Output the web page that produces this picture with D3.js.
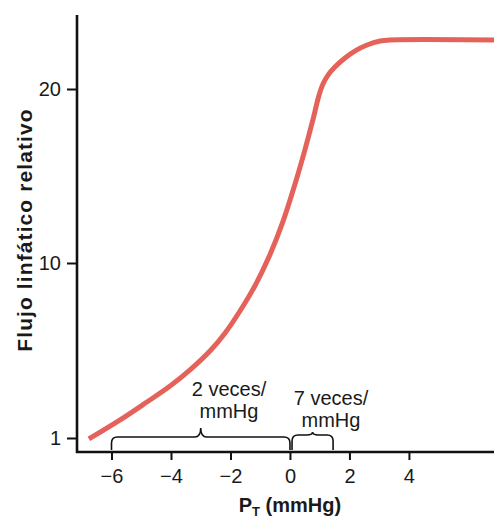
<!DOCTYPE html>
<html>
<head>
<meta charset="utf-8">
<script src="https://cdn.jsdelivr.net/npm/d3@7"></script>
<style>
  html, body { margin: 0; padding: 0; background: #ffffff; }
  svg { display: block; }
  text { font-family: "Liberation Sans", Arial, Helvetica, sans-serif; fill: #1a1a1a; }
</style>
</head>
<body>
<svg id="chart" width="494" height="518"></svg>
<script>
// ---- data ----
const pressure = [-6.76, -5.71, -4.81, -4.03, -3.36, -2.69, -2.18, -1.68, -1.18, -0.67, -0.24, 0.17, 0.50, 0.77, 0.97, 1.11, 1.28, 1.51, 1.85, 2.18, 2.59, 3.03, 3.36, 6.86];
const flow     = [0.95, 1.93, 2.85, 3.67, 4.50, 5.47, 6.40, 7.53, 8.82, 10.49, 12.36, 14.54, 16.49, 18.22, 19.60, 20.29, 20.80, 21.26, 21.78, 22.18, 22.53, 22.76, 22.82, 22.82];
const xTicks = [-6, -4, -2, 0, 2, 4];
const xTickLabels = ["\u22126", "\u22124", "\u22122", "0", "2", "4"];
const yTicks = [1, 10, 20];
const yTickLabels = ["1", "10", "20"];
const braceRanges = [[-6, 0], [0.07, 1.45]];
const braceLabels = [["2 veces/", "mmHg"], ["7 veces/", "mmHg"]];
const xDomain = [-7.16, 6.86];

// ---- layout ----
const svg = d3.select("#chart");
const mLeft = 77, mRight = 494, mTop = 15, mBottom = 452;

const x = d3.scaleLinear().domain(xDomain).range([mLeft, mRight]);
// the printed axis is piecewise: "1" sits where 0 would be on the 10–20 spacing
const y = d3.scaleLinear().domain(yTicks).range([438, 263, 89]);

// axes lines
svg.append("line").attr("x1", mLeft).attr("x2", mLeft).attr("y1", mTop).attr("y2", mBottom + 1)
  .attr("stroke", "#111").attr("stroke-width", 2.6);
svg.append("line").attr("x1", mLeft - 1).attr("x2", mRight).attr("y1", mBottom).attr("y2", mBottom)
  .attr("stroke", "#111").attr("stroke-width", 2.6);

// x axis
const xAxis = d3.axisBottom(x).tickValues(xTicks).tickSize(7).tickPadding(9)
  .tickFormat((d, i) => xTickLabels[i]);
const gx = svg.append("g").attr("transform", `translate(0,${mBottom + 1})`).call(xAxis);
gx.select(".domain").remove();
gx.selectAll(".tick line").attr("stroke", "#111").attr("stroke-width", 2);
gx.selectAll(".tick text").attr("font-size", 20).attr("fill", "#1a1a1a")
  .style("font-family", "'Liberation Sans', Arial, sans-serif");

// y axis
const yAxis = d3.axisLeft(y).tickValues(yTicks).tickSize(9).tickPadding(6)
  .tickFormat((d, i) => yTickLabels[i]);
const gy = svg.append("g").attr("transform", `translate(${mLeft - 1},0)`).call(yAxis);
gy.select(".domain").remove();
gy.selectAll(".tick line").attr("stroke", "#111").attr("stroke-width", 2);
gy.selectAll(".tick text").attr("font-size", 20).attr("fill", "#1a1a1a")
  .style("font-family", "'Liberation Sans', Arial, sans-serif");

// axis titles
const xt = svg.append("text").attr("x", x(0)).attr("y", 512).attr("text-anchor", "middle")
  .attr("font-size", 20).attr("font-weight", "bold");
xt.append("tspan").text("P");
xt.append("tspan").attr("font-size", 13).attr("dy", 4).text("T");
xt.append("tspan").attr("dy", -4).text(" (mmHg)");

svg.append("text").attr("transform", `translate(32,230) rotate(-90)`)
  .attr("text-anchor", "middle").attr("font-size", 21).attr("font-weight", "bold")
  .attr("letter-spacing", 1.1)
  .text("Flujo linfático relativo");

// curve
const line = d3.line().x(d => x(d[0])).y(d => y(d[1])).curve(d3.curveCatmullRom.alpha(0.5));
svg.append("path").datum(pressure.map((p, i) => [p, flow[i]]))
  .attr("d", line).attr("fill", "none").attr("stroke", "#e5625a").attr("stroke-width", 5);

// braces
function bracePath(x0, x1, yTop, yLeg, tip) {
  const xm = (x0 + x1) / 2, r = Math.min(6, (x1 - x0) / 6);
  return `M${x0},${yLeg} L${x0},${yTop + r} Q${x0},${yTop} ${x0 + r},${yTop} ` +
    `L${xm - r},${yTop} Q${xm},${yTop} ${xm},${yTop - tip} Q${xm},${yTop} ${xm + r},${yTop} ` +
    `L${x1 - r},${yTop} Q${x1},${yTop} ${x1},${yTop + r} L${x1},${yLeg}`;
}
const braceTop = [437, 435], braceTip = [9, 3];
braceRanges.forEach((r, i) => {
  svg.append("path").attr("d", bracePath(x(r[0]), x(r[1]), braceTop[i], mBottom - 2, braceTip[i]))
    .attr("fill", "none").attr("stroke", "#111").attr("stroke-width", 1.6);
});
const labelPos = [[229, 396, 418], [331, 405, 427]];
braceLabels.forEach((lines, i) => {
  lines.forEach((t, j) => {
    svg.append("text").attr("x", labelPos[i][0]).attr("y", labelPos[i][1 + j])
      .attr("text-anchor", "middle").attr("font-size", 20).text(t);
  });
});
</script>
</body>
</html>
